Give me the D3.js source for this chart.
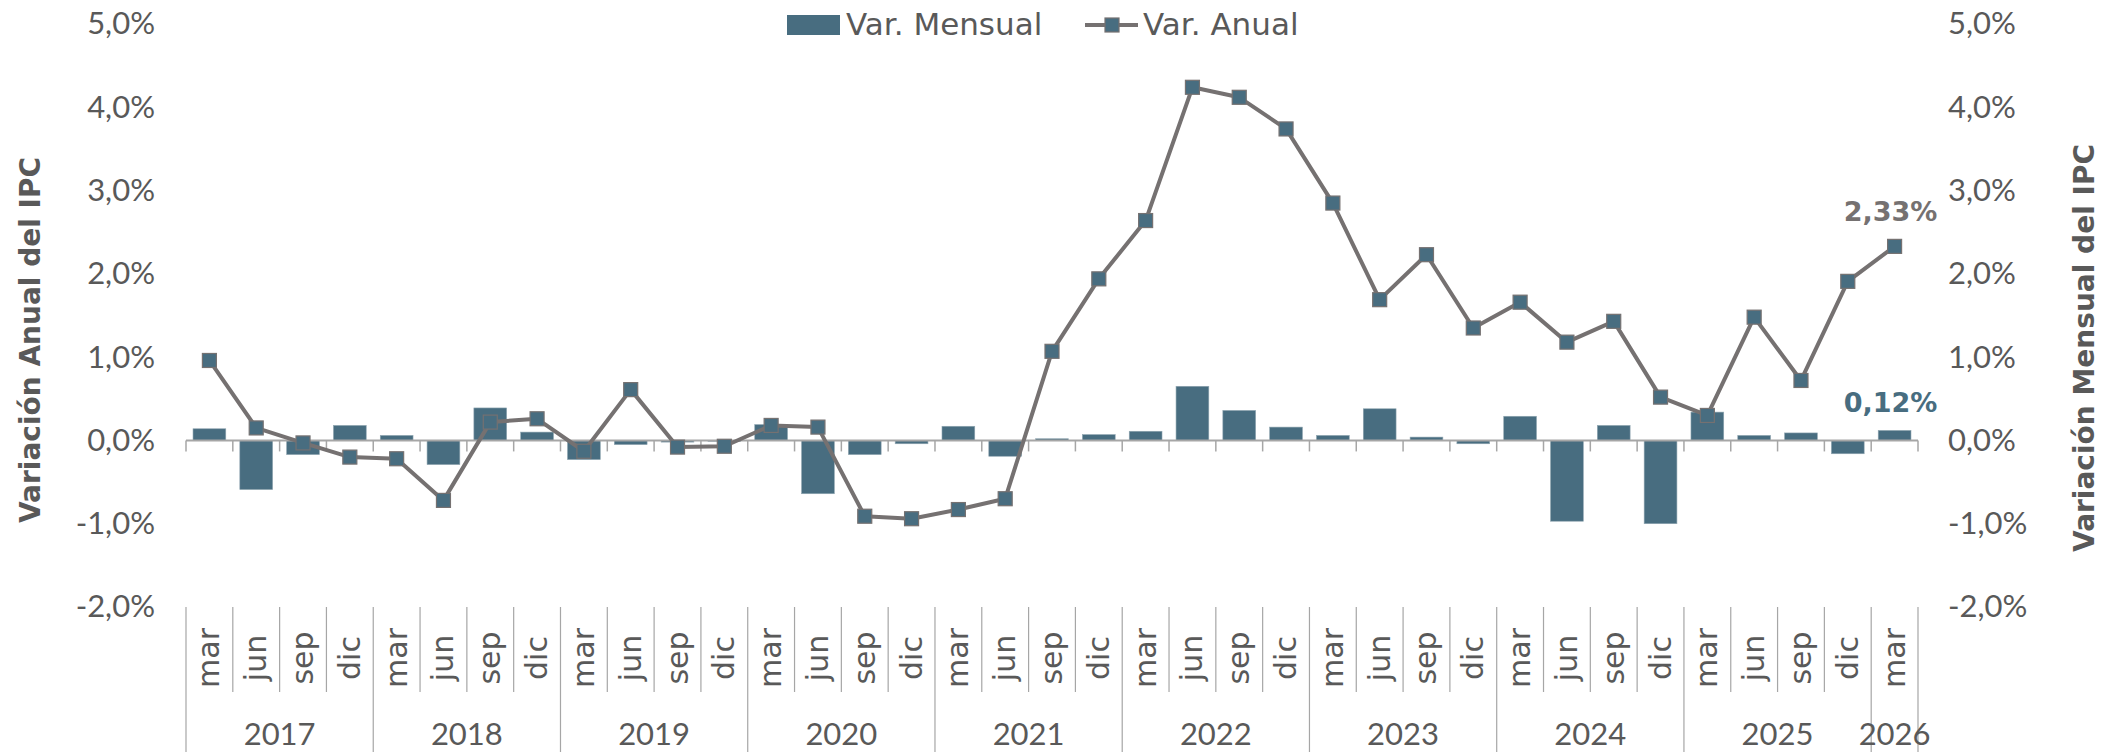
<!DOCTYPE html>
<html lang="es">
<head>
<meta charset="utf-8" />
<title>IPC: variación mensual y anual</title>
<script src="https://cdn.jsdelivr.net/npm/d3@7/dist/d3.min.js"></script>
<style>
  html, body { margin: 0; padding: 0; background: #fff; }
  svg { display: block; font-family: "DejaVu Sans", sans-serif; }
  .tick text { fill: #595959; font-size: 31px; font-family: "Lato", sans-serif; }
</style>
</head>
<body>
<svg id="chart" width="2123" height="752"></svg>
<script>
// trimestres, de mar 2017 a mar 2026
var months = ["mar","jun","sep","dic","mar","jun","sep","dic","mar","jun","sep","dic",
  "mar","jun","sep","dic","mar","jun","sep","dic","mar","jun","sep","dic",
  "mar","jun","sep","dic","mar","jun","sep","dic","mar","jun","sep","dic","mar"];
var years = ["2017","2018","2019","2020","2021","2022","2023","2024","2025","2026"];

// variación mensual del IPC (%) - barras
var mensual = [0.14, -0.59, -0.17, 0.18, 0.06, -0.29, 0.39, 0.10, -0.23, -0.05, -0.02, -0.01,
  0.19, -0.64, -0.17, -0.04, 0.17, -0.19, 0.02, 0.07, 0.11, 0.65, 0.36, 0.16,
  0.06, 0.38, 0.04, -0.04, 0.29, -0.97, 0.18, -1.00, 0.34, 0.06, 0.09, -0.16, 0.12];

// variación anual del IPC (%) - línea
var anual = [0.96, 0.15, -0.03, -0.20, -0.22, -0.72, 0.22, 0.26, -0.13, 0.61, -0.08, -0.07,
  0.18, 0.16, -0.91, -0.94, -0.83, -0.70, 1.07, 1.94, 2.64, 4.24, 4.12, 3.74,
  2.85, 1.69, 2.23, 1.35, 1.66, 1.18, 1.43, 0.52, 0.30, 1.48, 0.72, 1.91, 2.33];

var yTicks = [-2, -1, 0, 1, 2, 3, 4, 5];

var blue = "#486d80", gray = "#757171", txt = "#595959", axisGray = "#a6a6a6";

var svg = d3.select("#chart");
var pLeft = 186, pRight = 1918, pTop = 24, pBottom = 607;

var idx = d3.range(months.length);
var x = d3.scaleBand().domain(idx).range([pLeft, pRight]).paddingInner(0.3).paddingOuter(0.15);
var cell = d3.scaleBand().domain(idx).range([pLeft, pRight]).padding(0);
var y = d3.scaleLinear().domain([-2, 5]).range([pBottom, pTop]);

function pct(v) { return v.toFixed(1).replace(".", ",") + "%"; }
function mid(i) { return cell(i) + cell.bandwidth() / 2; }

// ejes verticales (solo etiquetas)
var yl = svg.append("g").attr("transform", "translate(155,0)")
  .call(d3.axisLeft(y).tickValues(yTicks).tickSize(0).tickPadding(0).tickFormat(pct));
yl.select(".domain").remove();
var yr = svg.append("g").attr("transform", "translate(1948,0)")
  .call(d3.axisRight(y).tickValues(yTicks).tickSize(0).tickPadding(0).tickFormat(pct));
yr.select(".domain").remove();

// barras
svg.append("g").selectAll("rect").data(mensual).join("rect")
  .attr("x", function(d, i) { return x(i); })
  .attr("width", x.bandwidth())
  .attr("y", function(d) { return y(Math.max(0, d)); })
  .attr("height", function(d) { return Math.abs(y(d) - y(0)); })
  .attr("fill", blue)
  .attr("stroke", "#8fa5b0").attr("stroke-width", 0.6);

// eje cero con marcas
var y0 = y(0);
svg.append("line").attr("x1", pLeft).attr("x2", pRight).attr("y1", y0).attr("y2", y0)
  .attr("stroke", axisGray).attr("stroke-width", 2);
svg.append("g").selectAll("line").data(d3.range(months.length + 1)).join("line")
  .attr("x1", function(i) { return pLeft + i * cell.step(); })
  .attr("x2", function(i) { return pLeft + i * cell.step(); })
  .attr("y1", y0).attr("y2", y0 + 11)
  .attr("stroke", axisGray).attr("stroke-width", 1.5);

// línea anual
var line = d3.line()
  .x(function(d, i) { return mid(i); })
  .y(function(d) { return y(d); });
svg.append("path").datum(anual).attr("d", line)
  .attr("fill", "none").attr("stroke", gray).attr("stroke-width", 4)
  .attr("stroke-linejoin", "round");
var ms = 14;
svg.append("g").selectAll("rect").data(anual).join("rect")
  .attr("x", function(d, i) { return mid(i) - ms / 2; })
  .attr("y", function(d) { return y(d) - ms / 2; })
  .attr("width", ms).attr("height", ms)
  .attr("fill", blue).attr("stroke", gray).attr("stroke-width", 1.2);

// etiquetas del último dato
var last = months.length - 1;
var lx = mid(last) - 4;
svg.append("text").attr("x", lx).attr("y", y(anual[last]) - 25)
  .attr("text-anchor", "middle").attr("font-size", 27).attr("font-weight", "bold")
  .attr("fill", gray).text(anual[last].toFixed(2).replace(".", ",") + "%");
svg.append("text").attr("x", lx).attr("y", y(mensual[last]) - 18)
  .attr("text-anchor", "middle").attr("font-size", 27).attr("font-weight", "bold")
  .attr("fill", blue).text(mensual[last].toFixed(2).replace(".", ",") + "%");

// eje de categorías: meses y años
var cat = svg.append("g");
cat.selectAll("line.m").data(d3.range(months.length + 1)).join("line")
  .attr("class", "m")
  .attr("x1", function(i) { return pLeft + i * cell.step(); })
  .attr("x2", function(i) { return pLeft + i * cell.step(); })
  .attr("y1", pBottom)
  .attr("y2", function(i) { return (i % 4 === 0 || i === months.length) ? 752 : 692; })
  .attr("stroke", axisGray).attr("stroke-width", 1.2);
cat.selectAll("text.m").data(months).join("text")
  .attr("class", "m")
  .attr("transform", function(d, i) {
    return "translate(" + (mid(i) + 10) + ",658) rotate(-90)";
  })
  .attr("text-anchor", "middle").attr("font-size", 30).attr("fill", txt)
  .text(function(d) { return d; });
cat.selectAll("text.y").data(years).join("text")
  .attr("class", "y")
  .attr("x", function(d, i) {
    var a = i * 4, b = Math.min(a + 4, months.length);
    return pLeft + (a + b) / 2 * cell.step();
  })
  .attr("y", 745)
  .attr("text-anchor", "middle").attr("font-size", 31).attr("font-family", "Lato, sans-serif")
  .attr("fill", txt)
  .text(function(d) { return d; });

// títulos de ejes
svg.append("text").attr("transform", "translate(40,340) rotate(-90)")
  .attr("text-anchor", "middle").attr("font-size", 28).attr("font-weight", "bold")
  .attr("fill", txt).text("Variación Anual del IPC");
svg.append("text").attr("transform", "translate(2094,348) rotate(-90)")
  .attr("text-anchor", "middle").attr("font-size", 28).attr("font-weight", "bold")
  .attr("fill", txt).text("Variación Mensual del IPC");

// leyenda
var lg = svg.append("g");
lg.append("rect").attr("x", 787).attr("y", 15).attr("width", 53).attr("height", 20).attr("fill", blue);
lg.append("text").attr("x", 846).attr("y", 35).attr("font-size", 31).attr("fill", txt).text("Var. Mensual");
lg.append("line").attr("x1", 1085).attr("x2", 1138).attr("y1", 25).attr("y2", 25)
  .attr("stroke", gray).attr("stroke-width", 4);
lg.append("rect").attr("x", 1105).attr("y", 18).attr("width", 14).attr("height", 14)
  .attr("fill", blue).attr("stroke", gray).attr("stroke-width", 1.2);
lg.append("text").attr("x", 1143).attr("y", 35).attr("font-size", 31).attr("fill", txt).text("Var. Anual");
</script>
</body>
</html>
